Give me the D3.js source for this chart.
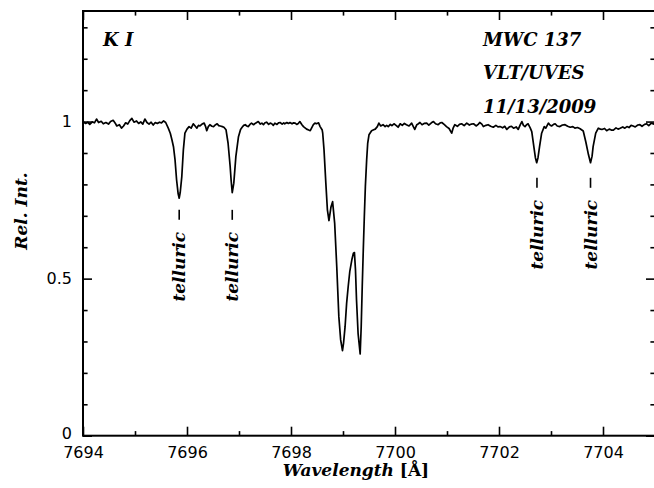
<!DOCTYPE html>
<html>
<head>
<meta charset="utf-8">
<script src="https://cdn.jsdelivr.net/npm/d3@7"></script>
<style>
  body { margin: 0; background: #fff; }
  svg { display: block; }
  .tick text { font-family: "DejaVu Sans", sans-serif; font-size: 16px; fill: #000; }
  .lbl { font-family: "DejaVu Serif", serif; font-style: italic; fill: #000; }
</style>
</head>
<body>
<div class="chart"></div>
<script>
// K I 7699 region, MWC 137, VLT/UVES -- [wavelength (A), relative intensity]
const spectrum = [
  [7694.00, 1.000], [7694.05, 0.994], [7694.09, 0.998], [7694.13, 0.991], [7694.18, 0.999],
  [7694.22, 0.996], [7694.26, 1.008], [7694.30, 0.997], [7694.35, 1.001], [7694.39, 0.993],
  [7694.44, 0.997], [7694.49, 0.992], [7694.53, 1.000], [7694.58, 1.004], [7694.62, 0.995],
  [7694.65, 0.986], [7694.70, 0.990], [7694.74, 0.979], [7694.78, 0.986], [7694.82, 0.996],
  [7694.86, 0.992], [7694.90, 1.003], [7694.94, 1.010], [7694.98, 0.998], [7695.03, 1.002],
  [7695.07, 0.994], [7695.11, 0.999], [7695.15, 0.992], [7695.19, 1.008], [7695.23, 0.997],
  [7695.27, 0.992], [7695.31, 0.998], [7695.35, 0.989], [7695.39, 0.997], [7695.43, 0.994],
  [7695.47, 0.998], [7695.51, 0.996], [7695.55, 1.002], [7695.59, 0.997],
  // telluric
  [7695.64, 0.979], [7695.68, 0.962], [7695.71, 0.942], [7695.74, 0.920], [7695.77, 0.878],
  [7695.80, 0.814], [7695.83, 0.770], [7695.85, 0.756], [7695.87, 0.775], [7695.90, 0.825],
  [7695.93, 0.910], [7695.96, 0.963], [7696.00, 0.976], [7696.04, 0.984], [7696.08, 0.979],
  [7696.12, 0.993], [7696.16, 0.985], [7696.19, 0.979], [7696.22, 0.988], [7696.25, 0.986],
  [7696.29, 0.992], [7696.33, 0.995], [7696.36, 0.983], [7696.38, 0.971], [7696.41, 0.984],
  [7696.44, 0.990], [7696.48, 0.985], [7696.51, 0.984], [7696.55, 0.990], [7696.58, 0.993],
  [7696.61, 0.987], [7696.64, 0.986], [7696.68, 0.984], [7696.71, 0.982],
  // telluric
  [7696.75, 0.974], [7696.79, 0.931], [7696.83, 0.857], [7696.85, 0.810], [7696.87, 0.774],
  [7696.90, 0.804], [7696.94, 0.889], [7696.99, 0.952], [7697.03, 0.975], [7697.06, 0.982],
  [7697.09, 0.988], [7697.12, 0.990], [7697.15, 0.986], [7697.18, 0.984], [7697.21, 0.991],
  [7697.24, 0.995], [7697.28, 0.990], [7697.31, 0.994], [7697.34, 0.997], [7697.37, 1.000],
  [7697.41, 0.992], [7697.44, 0.995], [7697.47, 0.990], [7697.50, 0.996], [7697.53, 0.998],
  [7697.57, 0.991], [7697.60, 0.995], [7697.63, 0.993], [7697.66, 0.988], [7697.69, 0.995],
  [7697.73, 0.991], [7697.76, 0.996], [7697.79, 0.997], [7697.83, 0.992], [7697.86, 0.996],
  [7697.88, 0.993], [7697.92, 0.997], [7697.95, 0.994], [7697.98, 0.997], [7698.02, 0.993],
  [7698.05, 0.996], [7698.08, 0.995], [7698.11, 0.991], [7698.14, 0.994], [7698.17, 1.000],
  [7698.21, 0.990], [7698.24, 0.984], [7698.27, 0.980], [7698.30, 0.976], [7698.34, 0.973],
  [7698.37, 0.971], [7698.40, 0.981], [7698.43, 0.990], [7698.46, 0.995], [7698.49, 0.993],
  [7698.53, 0.996], [7698.56, 0.984],
  // K I 7698.96 absorption components
  [7698.60, 0.973], [7698.61, 0.963], [7698.635, 0.910], [7698.67, 0.804], [7698.70, 0.719],
  [7698.73, 0.685], [7698.77, 0.729], [7698.80, 0.745], [7698.84, 0.676], [7698.88, 0.538],
  [7698.92, 0.379], [7698.955, 0.305], [7698.99, 0.271], [7699.01, 0.294], [7699.04, 0.347],
  [7699.07, 0.422], [7699.10, 0.475], [7699.13, 0.522], [7699.17, 0.560], [7699.20, 0.581],
  [7699.22, 0.583], [7699.24, 0.528], [7699.26, 0.432], [7699.29, 0.326], [7699.33, 0.260],
  [7699.35, 0.347], [7699.37, 0.475], [7699.39, 0.591], [7699.41, 0.697], [7699.43, 0.793],
  [7699.455, 0.878], [7699.475, 0.931], [7699.50, 0.958], [7699.55, 0.971], [7699.59, 0.974],
  [7699.62, 0.976], [7699.66, 0.984], [7699.69, 0.995], [7699.725, 0.986], [7699.77, 0.990],
  [7699.81, 0.984], [7699.84, 0.988], [7699.87, 0.984], [7699.91, 0.991], [7699.94, 0.987],
  [7699.98, 0.993], [7700.02, 0.988], [7700.06, 0.982], [7700.10, 0.993], [7700.14, 0.988],
  [7700.18, 0.994], [7700.22, 0.990], [7700.27, 0.986], [7700.32, 0.995], [7700.35, 0.985],
  [7700.38, 0.975], [7700.42, 0.990], [7700.45, 0.993], [7700.48, 0.997], [7700.52, 0.990],
  [7700.56, 0.994], [7700.61, 0.995], [7700.65, 0.989], [7700.70, 0.996], [7700.74, 1.000],
  [7700.78, 0.993], [7700.83, 0.990], [7700.87, 0.996], [7700.90, 0.997], [7700.95, 0.990],
  [7700.99, 0.984], [7701.04, 0.978], [7701.09, 0.963], [7701.12, 0.980], [7701.15, 0.990],
  [7701.20, 0.985], [7701.24, 0.991], [7701.28, 0.993], [7701.33, 0.987], [7701.38, 0.995],
  [7701.43, 0.989], [7701.47, 0.992], [7701.51, 0.993], [7701.56, 0.986], [7701.60, 0.991],
  [7701.63, 0.997], [7701.67, 0.992], [7701.70, 0.984], [7701.75, 0.988], [7701.79, 0.990],
  [7701.84, 0.985], [7701.89, 0.982], [7701.94, 0.988], [7701.98, 0.983], [7702.02, 0.984],
  [7702.07, 0.980], [7702.11, 0.985], [7702.15, 0.975], [7702.20, 0.983], [7702.24, 0.985],
  [7702.28, 0.979], [7702.33, 0.983], [7702.37, 0.975], [7702.41, 0.990], [7702.44, 1.000],
  [7702.47, 0.988], [7702.50, 0.984], [7702.53, 0.990], [7702.56, 0.993],
  // telluric
  [7702.60, 0.980], [7702.63, 0.968], [7702.67, 0.920], [7702.70, 0.885], [7702.725, 0.869],
  [7702.75, 0.885], [7702.78, 0.920], [7702.82, 0.963], [7702.87, 0.984], [7702.90, 0.979],
  [7702.95, 0.995], [7702.98, 0.989], [7703.01, 0.986], [7703.05, 0.991], [7703.08, 0.993],
  [7703.12, 0.986], [7703.17, 0.984], [7703.22, 0.989], [7703.27, 0.990], [7703.32, 0.985],
  [7703.37, 0.982], [7703.42, 0.984], [7703.46, 0.979], [7703.51, 0.981], [7703.56, 0.977],
  [7703.62, 0.970],
  // telluric
  [7703.67, 0.935], [7703.72, 0.895], [7703.76, 0.869], [7703.79, 0.890], [7703.81, 0.920],
  [7703.86, 0.963], [7703.91, 0.979], [7703.95, 0.976], [7703.98, 0.975], [7704.03, 0.978],
  [7704.07, 0.971], [7704.12, 0.976], [7704.16, 0.973], [7704.20, 0.973], [7704.25, 0.980],
  [7704.29, 0.976], [7704.33, 0.979], [7704.38, 0.983], [7704.42, 0.979], [7704.46, 0.984],
  [7704.50, 0.981], [7704.54, 0.988], [7704.58, 0.986], [7704.62, 0.983], [7704.67, 0.989],
  [7704.71, 0.990], [7704.75, 0.985], [7704.80, 0.991], [7704.84, 0.993], [7704.88, 0.987],
  [7704.93, 0.995], [7704.97, 0.992], [7705.00, 0.996]
];

// telluric markers: wavelength and the flux level where the dash starts
const tellWave = [7695.85, 7696.87, 7702.73, 7703.76];
const tellLevel = [0.719, 0.719, 0.821, 0.821];

const xMajor = [7694, 7696, 7698, 7700, 7702, 7704];
const xMinor = [7695, 7697, 7699, 7701, 7703, 7705];
const yMajor = [0, 0.5, 1];
const yMinor = [0.1, 0.2, 0.3, 0.4, 0.6, 0.7, 0.8, 0.9, 1.1, 1.2, 1.3];

const infoLines = ["MWC 137", "VLT/UVES", "11/13/2009"];

const W = 654, H = 488;
const margin = {top: 11, right: -1, bottom: 52.3, left: 83};
const width = W - margin.left - margin.right;
const height = H - margin.top - margin.bottom;

const svg = d3.select(".chart").append("svg")
    .attr("width", W).attr("height", H);
const g = svg.append("g")
    .attr("transform", `translate(${margin.left},${margin.top})`);

const x = d3.scaleLinear().domain([7694, 7705]).range([0, width]);
const y = d3.scaleLinear().domain([0, 1.352]).range([height, 0]);

// axes with inward ticks on all four sides
function addAxis(axisFn, scale, vals, size, tr, labels) {
  const a = axisFn(scale).tickValues(vals).tickSize(-size).tickSizeOuter(0);
  if (labels) a.tickFormat(d3.format("")).tickPadding(labels);
  else a.tickFormat("");
  const ag = g.append("g").attr("transform", tr).call(a);
  ag.selectAll(".tick line").attr("stroke", "#000").attr("stroke-width", 1.6);
  ag.select(".domain").remove();
  return ag;
}
addAxis(d3.axisBottom, x, xMajor, 9, `translate(0,${height})`, 11);
addAxis(d3.axisBottom, x, xMinor, 4.6, `translate(0,${height})`);
addAxis(d3.axisTop, x, xMajor, 9, "translate(0,0)");
addAxis(d3.axisTop, x, xMinor, 4.6, "translate(0,0)");
const yAx = addAxis(d3.axisLeft, y, yMajor, 9, "translate(0,0)", 11);
yAx.selectAll(".tick text").attr("dy", d => d === 0 ? "0.15em" : "0.32em");
addAxis(d3.axisLeft, y, yMinor, 4.6, "translate(0,0)");
addAxis(d3.axisRight, y, yMajor, 9, `translate(${width},0)`);
addAxis(d3.axisRight, y, yMinor, 4.6, `translate(${width},0)`);

// frame
g.append("rect")
  .attr("x", 0).attr("y", 0).attr("width", width).attr("height", height)
  .attr("fill", "none").attr("stroke", "#000").attr("stroke-width", 2);

// spectrum
const line = d3.line().x(d => x(d[0])).y(d => y(d[1]));
g.append("path")
  .datum(spectrum)
  .attr("fill", "none")
  .attr("stroke", "#000")
  .attr("stroke-width", 1.7)
  .attr("stroke-linejoin", "round")
  .attr("d", line);

// telluric labels
tellWave.forEach((w, i) => {
  const px = x(w), py = y(tellLevel[i]);
  g.append("line")
    .attr("x1", px).attr("x2", px)
    .attr("y1", py).attr("y2", py + 10)
    .attr("stroke", "#000").attr("stroke-width", 1.6);
  g.append("text")
    .attr("class", "lbl")
    .attr("transform", `translate(${px + 6},${py + 22}) rotate(-90)`)
    .attr("text-anchor", "end")
    .attr("font-size", 17)
    .attr("font-weight", "bold")
    .text("telluric");
});

// annotations
g.append("text").attr("class", "lbl")
  .attr("x", 20).attr("y", 35)
  .attr("font-size", 18).attr("font-weight", "bold")
  .text("K I");

g.selectAll(".info")
  .data(infoLines)
  .enter().append("text")
  .attr("class", "lbl info")
  .attr("x", 400)
  .attr("y", (d, i) => 34.7 + i * 33.7)
  .attr("font-size", 18).attr("font-weight", "bold")
  .text(d => d);

// axis titles
svg.append("text").attr("class", "lbl")
  .attr("transform", "translate(27,211) rotate(-90)")
  .attr("text-anchor", "middle")
  .attr("font-size", 17).attr("font-weight", "bold")
  .text("Rel. Int.");

const xt = svg.append("text").attr("class", "lbl")
  .attr("x", 356).attr("y", 476)
  .attr("text-anchor", "middle")
  .attr("font-size", 17).attr("font-weight", "bold");
xt.append("tspan").text("Wavelength ");
xt.append("tspan").attr("font-style", "normal").text("[Å]");
</script>
</body>
</html>
